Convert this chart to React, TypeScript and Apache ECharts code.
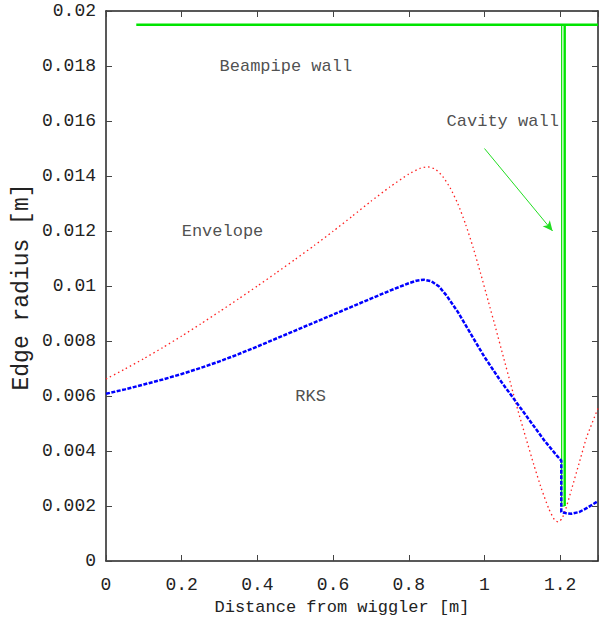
import React, { useEffect, useRef } from "react";
import * as echarts from "echarts";

// Envelope (red dotted), y in mm
const envX = [0, 0.05, 0.1, 0.15, 0.2, 0.25, 0.3, 0.35, 0.4, 0.45, 0.5, 0.55, 0.6, 0.65, 0.7, 0.75, 0.8, 0.83, 0.85, 0.87, 0.89, 0.91, 0.93, 0.95, 0.97, 0.99, 1.01, 1.03, 1.05, 1.07, 1.09, 1.11, 1.13, 1.15, 1.17, 1.185, 1.195, 1.205, 1.215, 1.23, 1.25, 1.27, 1.3];
const envY = [6.62, 6.98, 7.36, 7.76, 8.18, 8.62, 9.07, 9.53, 10.0, 10.48, 10.97, 11.47, 11.99, 12.53, 13.08, 13.6, 14.07, 14.28, 14.33, 14.25, 13.98, 13.55, 12.98, 12.25, 11.4, 10.45, 9.45, 8.45, 7.42, 6.4, 5.4, 4.45, 3.52, 2.65, 1.9, 1.5, 1.42, 1.55, 1.9, 2.6, 3.55, 4.5, 5.55];

// RKS (blue dashed), y in mm
const rksX = [0, 0.05, 0.1, 0.15, 0.2, 0.25, 0.3, 0.35, 0.4, 0.45, 0.5, 0.55, 0.6, 0.65, 0.7, 0.75, 0.8, 0.82, 0.84, 0.86, 0.88, 0.9, 0.93, 0.96, 1.0, 1.04, 1.08, 1.12, 1.16, 1.19, 1.203, 1.203, 1.215, 1.23, 1.25, 1.27, 1.3];
const rksY = [6.08, 6.24, 6.42, 6.6, 6.8, 7.02, 7.26, 7.52, 7.8, 8.09, 8.38, 8.67, 8.96, 9.25, 9.54, 9.83, 10.1, 10.19, 10.23, 10.17, 9.98, 9.65, 9.05, 8.35, 7.42, 6.6, 5.85, 5.1, 4.35, 3.85, 3.65, 1.78, 1.74, 1.72, 1.78, 1.92, 2.18];

// Beampipe wall (green, thick) and cavity slot (thick right edge, thin left edge)
const wallMainX = [0.08, 1.3];
const wallMainY = [0.0195, 0.0195];
const slotRightX = [1.212, 1.212];
const slotRightY = [0.002, 0.0195];
const slotLeftX = [1.204, 1.204, 1.212];
const slotLeftY = [0.0195, 0.002, 0.002];

// Annotations
const labelTexts = ["Beampipe wall", "Envelope", "RKS", "Cavity wall"];
const labelX = [0.3, 0.2, 0.5, 0.9];
const labelY = [0.018, 0.012, 0.006, 0.016];
const arrowFrom = [1.0, 0.015];
const arrowTo = [1.18, 0.012];

const xTicks = [0, 0.2, 0.4, 0.6, 0.8, 1, 1.2];

const MONO = "Liberation Mono";
const INK = "#222";
const GREEN = "#00e400";

export default function App() {
  const ref = useRef<HTMLDivElement>(null);
  useEffect(() => {
    const chart = echarts.init(ref.current!, null, { renderer: "svg", width: 601, height: 624 });
    const axisCommon = {
      type: "value" as const,
      axisLine: { show: true, onZero: false, lineStyle: { color: INK, width: 1.5 } },
      axisTick: { show: true, inside: true, length: 6, lineStyle: { color: "#444", width: 1 } },
      splitLine: { show: false },
    };
    const option: any = {
      animation: false,
      backgroundColor: "#fff",
      grid: { left: 106, right: 1, top: 11, bottom: 63, containLabel: false },
      xAxis: [
        {
          ...axisCommon,
          position: "bottom",
          min: 0,
          max: 1.3,
          interval: 0.2,
          axisLabel: {
            margin: 15,
            fontFamily: MONO,
            fontSize: 18,
            color: INK,
            formatter: (v: number) => (xTicks.some((t) => Math.abs(t - v) < 1e-6) ? String(+v.toFixed(2)) : ""),
          },
        },
        {
          ...axisCommon,
          position: "top",
          min: 0,
          max: 1.3,
          interval: 0.2,
          axisLabel: { show: false },
        },
      ],
      yAxis: [
        {
          ...axisCommon,
          position: "left",
          min: 0,
          max: 0.02,
          interval: 0.002,
          axisLabel: {
            margin: 10,
            fontFamily: MONO,
            fontSize: 18,
            color: INK,
            formatter: (v: number) => String(+v.toFixed(4)),
          },
        },
        {
          ...axisCommon,
          position: "right",
          min: 0,
          max: 0.02,
          interval: 0.002,
          axisLabel: { show: false },
        },
      ],
      series: [
        {
          type: "line",
          name: "Envelope",
          data: envX.map((x, i) => [x, envY[i] / 1000]),
          smooth: 0.2,
          symbol: "none",
          lineStyle: { color: "#ff2020", width: 1.3, type: [1.5, 3] },
          z: 3,
        },
        {
          type: "line",
          name: "RKS",
          data: rksX.map((x, i) => [x, rksY[i] / 1000]),
          smooth: false,
          symbol: "none",
          lineStyle: { color: "#0000ff", width: 2.5, type: [4, 1.5] },
          z: 4,
        },
        {
          type: "line",
          name: "WallMain",
          data: wallMainX.map((x, i) => [x, wallMainY[i]]),
          symbol: "none",
          lineStyle: { color: GREEN, width: 2.4 },
          z: 2,
        },
        {
          type: "line",
          name: "SlotRight",
          data: slotRightX.map((x, i) => [x, slotRightY[i]]),
          symbol: "none",
          lineStyle: { color: GREEN, width: 2.4 },
          z: 2,
        },
        {
          type: "line",
          name: "SlotLeft",
          data: slotLeftX.map((x, i) => [x, slotLeftY[i]]),
          symbol: "none",
          lineStyle: { color: GREEN, width: 1.2 },
          z: 2,
          markLine: {
            silent: true,
            symbol: ["none", "arrow"],
            symbolSize: [7, 10],
            label: { show: false },
            lineStyle: { color: "#22dd22", width: 1, type: "solid" },
            data: [[{ coord: arrowFrom }, { coord: arrowTo }]],
          },
        },
        {
          type: "scatter",
          name: "labels",
          symbolSize: 0,
          silent: true,
          data: labelTexts.map((t, i) => ({ name: t, value: [labelX[i], labelY[i]] })),
          label: {
            show: true,
            position: "right",
            distance: 0,
            formatter: "{b}",
            fontFamily: MONO,
            fontSize: 17,
            color: INK,
          },
          z: 5,
        },
      ],
      graphic: [
        {
          type: "text",
          x: 342,
          y: 607,
          style: {
            text: "Distance from wiggler [m]",
            fontFamily: MONO,
            fontSize: 17,
            fill: INK,
            align: "center",
            verticalAlign: "middle",
          },
        },
        {
          type: "text",
          x: 22,
          y: 287,
          rotation: Math.PI / 2,
          style: {
            text: "Edge radius [m]",
            fontFamily: MONO,
            fontSize: 23,
            fill: INK,
            align: "center",
            verticalAlign: "middle",
          },
        },
      ],
    };
    chart.setOption(option);
    return () => chart.dispose();
  }, []);
  return <div ref={ref} style={{ position: "absolute", left: 0, top: 0, width: 601, height: 624 }} />;
}
